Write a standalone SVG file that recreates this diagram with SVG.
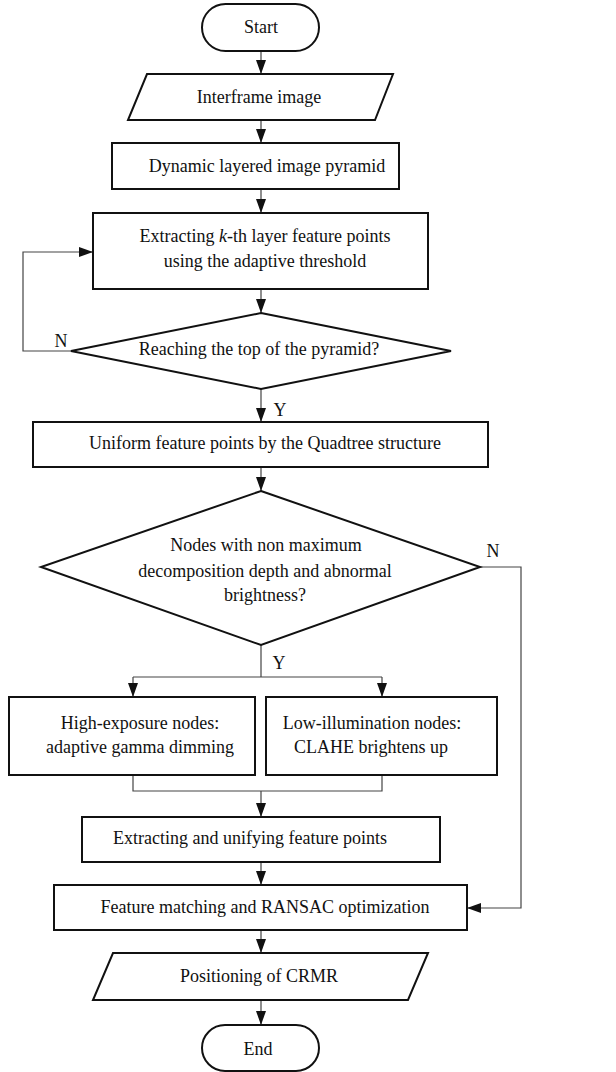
<svg xmlns="http://www.w3.org/2000/svg" width="616" height="1072" viewBox="0 0 616 1072">
<style>
.n{fill:#fff;stroke:#111;stroke-width:2}
.t{font-family:"Liberation Serif","Times New Roman",serif;font-size:18px;fill:#111;text-anchor:middle}
.c{fill:none;stroke:#444;stroke-width:1.2}
</style>
<defs>
<marker id="a" viewBox="0 0 14 10" refX="14" refY="5" markerWidth="14" markerHeight="10" markerUnits="userSpaceOnUse" orient="auto">
<path d="M0,0 L14,5 L0,10 z" fill="#111"/>
</marker>
</defs>
<rect width="616" height="1072" fill="#fff"/>
<g id="connectors">
<path class="c" d="M261,51 V74" marker-end="url(#a)"/>
<path class="c" d="M261,120 V143" marker-end="url(#a)"/>
<path class="c" d="M261,189 V213" marker-end="url(#a)"/>
<path class="c" d="M261,289 V313" marker-end="url(#a)"/>
<path class="c" d="M71,351 H23 V252 H93" marker-end="url(#a)"/>
<path class="c" d="M261,389 V422" marker-end="url(#a)"/>
<path class="c" d="M261,467 V491" marker-end="url(#a)"/>
<path class="c" d="M480,567 H521 V908 H467" marker-end="url(#a)"/>
<path class="c" d="M261,645 V677 M133,677 H382"/>
<path class="c" d="M133,677 V697" marker-end="url(#a)"/>
<path class="c" d="M382,677 V697" marker-end="url(#a)"/>
<path class="c" d="M133,775 V791 H382 V775"/>
<path class="c" d="M261,791 V817" marker-end="url(#a)"/>
<path class="c" d="M261,862 V885" marker-end="url(#a)"/>
<path class="c" d="M261,930 V953" marker-end="url(#a)"/>
<path class="c" d="M261,1000 V1025" marker-end="url(#a)"/>
<text class="t" x="61" y="347">N</text>
<text class="t" x="280" y="416">Y</text>
<text class="t" x="493" y="557">N</text>
<text class="t" x="279" y="669">Y</text>
</g>
<g id="start">
<rect class="n" x="202" y="4" width="117" height="47" rx="23.5"/>
<text class="t" x="261" y="33">Start</text>
</g>
<g id="interframe">
<polygon class="n" points="147,74 393,74 375,120 128,120"/>
<text class="t" x="259" y="103">Interframe image</text>
</g>
<g id="pyramid">
<rect class="n" x="112" y="143" width="287" height="46"/>
<text class="t" x="267" y="172">Dynamic layered image pyramid</text>
</g>
<g id="extract-k">
<rect class="n" x="93" y="213" width="335" height="76"/>
<text class="t" x="265" y="242">Extracting <tspan font-style="italic">k</tspan>-th layer feature points</text>
<text class="t" x="265" y="267">using the adaptive threshold</text>
</g>
<g id="top-check">
<polygon class="n" points="261,313 451,351 261,389 71,351"/>
<text class="t" x="259" y="355">Reaching the top of the pyramid?</text>
</g>
<g id="quadtree">
<rect class="n" x="33" y="422" width="455" height="45"/>
<text class="t" x="265" y="449">Uniform feature points by the Quadtree structure</text>
</g>
<g id="abnormal-check">
<polygon class="n" points="261,491 480,567 261,645 41,567"/>
<text class="t" x="266" y="551">Nodes with non maximum</text>
<text class="t" x="265" y="577">decomposition depth and abnormal</text>
<text class="t" x="265" y="601">brightness?</text>
</g>
<g id="high-exposure">
<rect class="n" x="9" y="697" width="246" height="78"/>
<text class="t" x="140" y="729">High-exposure nodes:</text>
<text class="t" x="140" y="753">adaptive gamma dimming</text>
</g>
<g id="low-illumination">
<rect class="n" x="266" y="697" width="231" height="78"/>
<text class="t" x="372" y="729">Low-illumination nodes:</text>
<text class="t" x="371" y="753">CLAHE brightens up</text>
</g>
<g id="unify">
<rect class="n" x="82" y="817" width="358" height="45"/>
<text class="t" x="250" y="844">Extracting and unifying feature points</text>
</g>
<g id="ransac">
<rect class="n" x="54" y="885" width="413" height="45"/>
<text class="t" x="265" y="913">Feature matching and RANSAC optimization</text>
</g>
<g id="positioning">
<polygon class="n" points="113,953 428,953 408,1000 93,1000"/>
<text class="t" x="259" y="982">Positioning of CRMR</text>
</g>
<g id="end">
<rect class="n" x="202" y="1025" width="117" height="46" rx="23"/>
<text class="t" x="258" y="1055">End</text>
</g>
</svg>
